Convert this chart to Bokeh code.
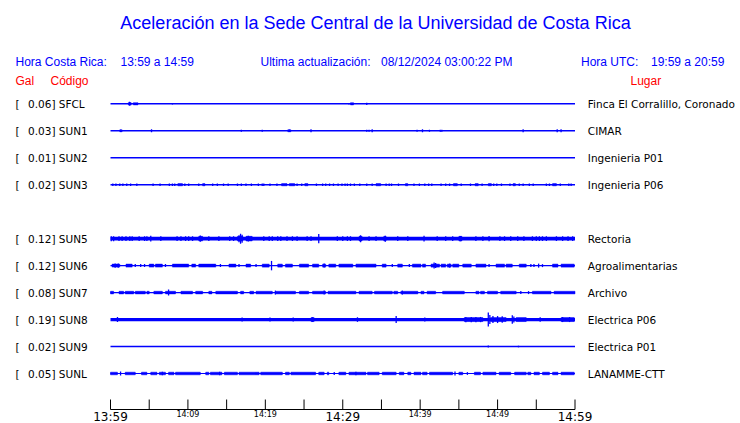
from bokeh.plotting import figure
from bokeh.models import Range1d, ColumnDataSource
from bokeh.core.properties import value
from bokeh.embed import file_html
from bokeh.resources import INLINE

# ---------------- data ----------------
title_text = "Aceleración en la Sede Central de la Universidad de Costa Rica"
hora_cr = "13:59 a 14:59"
ultima = "08/12/2024 03:00:22 PM"
hora_utc = "19:59 a 20:59"

# station order (SUN4 has no record -> empty row)
stations = ["SFCL", "SUN1", "SUN2", "SUN3", "SUN4", "SUN5", "SUN6", "SUN7", "SUN8", "SUN9", "SUNL"]
gal = [0.06, 0.03, 0.01, 0.02, None, 0.12, 0.12, 0.08, 0.19, 0.02, 0.05]
places = ["Finca El Corralillo, Coronado", "CIMAR", "Ingenieria P01", "Ingenieria P06", None,
          "Rectoria", "Agroalimentarias", "Archivo", "Electrica P06", "Electrica P01", "LANAMME-CTT"]

# time window (minutes after 13:59)
t_start, t_end = 0.0, 60.0
tick_minutes = [0, 5, 10, 15, 20, 25, 30, 35, 40, 45, 50, 55, 60]
label_minutes = [0, 10, 20, 30, 40, 50, 60]
label_texts = ["13:59", "14:09", "14:19", "14:29", "14:39", "14:49", "14:59"]
label_major = [True, False, False, True, False, False, True]

# background noise half-amplitude per station (trace units)
noise = [0.7, 0.7, 0.7, 0.7, None, 1.8, 0.6, 0.6, 1.6, 0.7, 0.6]
block_amp = [1.1, 1.0, 0.0, 1.1, None, 2.3, 1.5, 1.3, 2.0, 0.0, 1.3]

# bursts: (t_from, t_to)
sfcl_blocks = [(2.3, 2.65), (2.95, 3.55), (31.0, 31.4)]
sun1_blocks = [(1.2, 1.5), (22.9, 23.3)]
sun2_blocks = []
sun3_blocks = [(8.7, 9.3), (11.9, 12.2), (22.1, 22.8), (23.1, 23.8), (25.1, 25.5), (34.3, 34.9),
               (38.1, 38.4), (44.3, 44.8), (47.1, 47.5), (48.8, 49.2), (52.0, 52.3), (57.1, 57.6)]
sun5_blocks = [(11.4, 11.9), (16.4, 17.1), (17.5, 18.3), (32.1, 32.5), (35.3, 35.6), (45.0, 45.4)]
sun6_blocks = [(0.2, 1.2), (2.0, 2.8), (5.0, 5.6), (5.8, 6.7), (8.0, 10.1), (10.5, 11.0), (11.4, 13.6),
               (15.3, 16.2), (17.5, 18.1), (19.6, 20.5), (21.6, 22.2), (22.6, 23.5), (24.4, 25.6),
               (26.1, 26.9), (27.4, 27.8), (28.2, 29.1), (29.5, 31.3), (31.7, 34.3), (35.1, 35.6),
               (37.1, 37.7), (39.0, 40.1), (40.3, 40.7), (41.4, 42.5), (42.7, 43.3), (43.5, 44.0),
               (44.2, 45.0), (45.5, 46.6), (47.2, 48.5), (49.8, 50.9), (51.1, 51.9), (52.8, 53.7),
               (57.1, 57.8), (58.2, 59.9)]
sun7_blocks = [(0.0, 0.4), (1.1, 1.7), (1.9, 3.0), (3.2, 4.5), (4.7, 5.0), (5.6, 6.7), (7.1, 8.4),
               (9.1, 10.6), (11.0, 11.9), (12.7, 13.1), (13.6, 16.4), (16.8, 17.2), (18.0, 18.5),
               (18.8, 20.9), (21.3, 23.9), (24.4, 25.6), (26.1, 27.8), (28.1, 31.7), (32.1, 33.8),
               (34.1, 36.4), (36.6, 37.1), (37.5, 39.7), (40.1, 40.5), (40.9, 42.0), (42.9, 45.7),
               (47.2, 47.6), (47.8, 48.3), (48.7, 50.0), (50.4, 52.4), (54.5, 56.9), (57.3, 60.0)]
sun8_blocks = [(25.9, 26.3), (45.7, 48.1), (49.1, 51.1), (52.4, 53.7), (58.2, 59.9)]
sun9_blocks = []
sunl_blocks = [(0.0, 0.9), (1.9, 3.2), (4.0, 4.7), (5.2, 6.0), (6.3, 7.1), (7.5, 8.2), (8.4, 11.6),
               (12.3, 12.7), (12.9, 14.4), (14.7, 16.4), (16.6, 19.2), (19.4, 22.2), (22.6, 23.1),
               (23.3, 26.5), (26.9, 27.6), (28.0, 28.2), (29.5, 30.4), (30.8, 33.0), (33.2, 34.7),
               (35.1, 36.9), (37.3, 37.9), (38.4, 38.8), (39.2, 40.1), (40.3, 40.9), (41.2, 44.2),
               (45.0, 45.5), (47.0, 47.8), (48.1, 49.8), (50.2, 51.7), (52.2, 53.7), (53.9, 54.3),
               (54.7, 55.4), (55.8, 56.7), (57.1, 57.8), (58.2, 59.9)]

# spikes: (t, half amplitude)
sfcl_spikes = [(2.45, 2.0), (2.6, 1.4), (8.0, 0.8), (30.8, 0.8), (33.1, 1.1)]
sun1_spikes = [(1.3, 1.0), (5.3, 1.4), (16.9, 1.0), (19.6, 1.0), (23.1, 1.2), (25.9, 1.4), (33.1, 1.0),
               (33.4, 1.0), (33.8, 1.4), (39.6, 1.0), (40.3, 1.4), (41.2, 1.0), (42.6, 1.0), (42.8, 1.0),
               (53.3, 1.4), (57.7, 1.4), (58.2, 1.4)]
sun2_spikes = []
sun3_spikes = [(0.3, 1.2), (0.7, 1.2), (1.2, 1.2), (1.6, 1.2), (2.1, 1.2), (2.6, 1.2), (3.4, 1.2),
               (5.5, 1.2), (6.4, 1.2), (7.6, 1.2), (8.0, 1.2), (8.3, 1.2), (9.6, 1.2), (10.1, 1.2),
               (11.4, 1.2), (13.2, 1.2), (13.8, 1.2), (14.6, 1.2), (15.2, 1.2), (16.4, 1.2), (16.9, 1.2),
               (17.5, 1.2), (18.2, 1.2), (19.1, 1.2), (19.6, 1.2), (19.8, 1.2), (20.6, 1.2), (21.5, 1.2),
               (24.1, 1.2), (24.7, 1.2), (26.6, 1.2), (27.4, 1.2), (27.8, 1.2), (28.3, 1.2), (28.8, 1.2),
               (29.4, 1.2), (29.9, 1.2), (30.3, 1.2), (30.6, 1.2), (31.0, 1.2), (31.5, 1.2), (32.2, 1.2),
               (33.1, 1.2), (33.8, 1.2), (35.6, 1.2), (36.0, 1.2), (36.3, 1.2), (37.2, 1.2), (39.2, 1.2),
               (39.9, 1.2), (40.6, 1.2), (41.1, 1.2), (41.5, 1.2), (42.7, 1.2), (43.3, 1.2), (43.8, 1.2),
               (45.3, 1.2), (46.5, 1.2), (48.0, 1.2), (49.5, 1.2), (49.9, 1.2), (50.5, 1.2), (51.6, 1.2),
               (52.8, 1.2), (53.3, 1.2), (54.1, 1.2), (54.6, 1.2), (56.3, 1.2), (56.7, 1.2), (58.1, 1.2),
               (59.2, 1.2), (59.5, 1.2)]
sun5_spikes = [(0.1, 2.5), (0.4, 2.5), (1.1, 2.3), (1.5, 2.3), (2.0, 2.3), (2.5, 2.3), (2.8, 2.3),
               (3.7, 2.3), (4.4, 2.3), (4.7, 2.3), (5.2, 2.8), (6.5, 2.3), (8.6, 2.3), (9.1, 2.3),
               (9.7, 2.3), (10.1, 2.3), (10.6, 2.3), (11.6, 3.2), (12.7, 2.3), (14.0, 2.3), (15.4, 2.3),
               (15.9, 2.3), (16.6, 3.5), (16.8, 5.0), (17.0, 4.0), (17.8, 2.8), (19.8, 2.3), (20.5, 2.3),
               (20.9, 2.3), (21.6, 2.3), (22.0, 2.3), (22.8, 2.3), (23.5, 2.3), (24.1, 2.3), (25.4, 2.3),
               (25.9, 2.3), (26.9, 4.7), (29.3, 2.3), (30.0, 2.3), (30.6, 2.3), (31.0, 2.3), (32.3, 3.5),
               (33.4, 2.3), (34.3, 2.3), (35.5, 3.0), (37.1, 2.3), (38.4, 2.3), (40.5, 2.8), (42.2, 2.3),
               (43.3, 2.3), (44.2, 2.3), (45.2, 2.6), (47.2, 2.3), (48.1, 2.3), (48.9, 2.6), (50.3, 2.3),
               (50.9, 2.3), (51.7, 2.3), (52.6, 2.3), (53.4, 2.3), (54.5, 2.3), (55.0, 2.3), (55.4, 2.3),
               (55.8, 2.3), (56.3, 2.3), (57.6, 2.3), (58.4, 2.3), (59.1, 2.3), (59.7, 2.3)]
sun6_spikes = [(0.6, 2.2), (1.0, 2.2), (3.2, 1.5), (3.9, 1.5), (4.4, 1.5), (7.1, 1.5), (14.2, 1.5),
               (16.6, 1.5), (18.8, 1.5), (20.8, 4.7), (27.6, 2.0), (36.4, 1.5), (38.6, 1.5), (41.8, 3.0),
               (42.0, 2.5), (43.8, 2.0), (48.9, 1.5), (54.3, 1.5), (54.7, 1.5), (55.3, 2.0), (55.8, 1.5)]
sun7_spikes = [(7.5, 3.0), (21.3, 2.0), (27.6, 2.0), (37.7, 2.0), (53.0, 1.5), (54.0, 1.5)]
sun8_spikes = [(0.9, 2.5), (17.0, 2.0), (20.6, 2.0), (23.6, 2.0), (26.1, 2.4), (31.9, 2.3), (36.9, 3.5),
               (40.6, 2.0), (45.9, 2.6), (46.6, 2.6), (47.2, 2.6), (47.8, 2.6), (48.8, 7.0), (49.0, 4.5),
               (49.4, 3.5), (50.0, 3.5), (50.6, 3.2), (51.9, 4.3), (52.1, 3.0), (55.5, 2.2), (58.4, 2.5),
               (59.3, 2.5)]
sun9_spikes = [(48.8, 1.0), (52.7, 0.8)]
sunl_spikes = [(1.3, 2.0), (6.7, 1.8), (14.1, 1.8), (28.9, 1.4), (31.7, 1.8), (44.5, 2.0), (46.1, 1.4)]

blocks = [sfcl_blocks, sun1_blocks, sun2_blocks, sun3_blocks, None, sun5_blocks, sun6_blocks,
          sun7_blocks, sun8_blocks, sun9_blocks, sunl_blocks]
spikes = [sfcl_spikes, sun1_spikes, sun2_spikes, sun3_spikes, None, sun5_spikes, sun6_spikes,
          sun7_spikes, sun8_spikes, sun9_spikes, sunl_spikes]

# ---------------- layout ----------------
W, H = 740, 423
PAGE_OFF = 0
X0_PX, X1_PX = 110.0, 574.5          # page px of 13:59 / 14:59
ROW0_PX, ROW_STEP = 103.3, 26.97      # page px of first trace and spacing
ppm = (X1_PX - X0_PX) / (t_end - t_start)

def X(px):
    return t_start + (px - X0_PX) / ppm

def Y(py):
    return -(py - ROW0_PX) / ROW_STEP

AMP = 1.0 / ROW_STEP  # trace units -> row units

p = figure(width=W, height=H, output_backend="svg", toolbar_location=None,
           x_range=Range1d(X(PAGE_OFF), X(PAGE_OFF + W)),
           y_range=Range1d(Y(PAGE_OFF + H), Y(PAGE_OFF)),
           x_axis_type=None, y_axis_type=None, min_border=0)
p.outline_line_color = None
p.background_fill_color = "white"
p.border_fill_color = "white"

TRACE = "#0000ff"
BLUE_TXT = "#0000ff"
RED_TXT = "#ff0000"

# traces
for i, st in enumerate(stations):
    if noise[i] is None:
        continue
    yc = -i
    p.line([t_start, t_end], [yc, yc], line_color=TRACE, line_width=2 * noise[i])
    if blocks[i]:
        b = blocks[i]
        a = block_amp[i] * AMP
        p.quad(left=[q[0] for q in b], right=[q[1] for q in b],
               bottom=[yc - a] * len(b), top=[yc + a] * len(b),
               fill_color=TRACE, line_color=TRACE, line_width=0.5)
    if spikes[i]:
        s = spikes[i]
        p.segment(x0=[q[0] for q in s], x1=[q[0] for q in s],
                  y0=[yc - q[1] * AMP for q in s], y1=[yc + q[1] * AMP for q in s],
                  line_color=TRACE, line_width=1.3)

# row labels
rows = [i for i in range(len(stations)) if gal[i] is not None]
src = ColumnDataSource(dict(
    y=[-i for i in rows],
    lab=["%.2f] %s" % (gal[i], stations[i]) for i in rows],
    place=[places[i] for i in rows],
))
LABEL_FONT = value("DejaVu Sans")
LSIZE = "10.5px"
p.text(x=X(15), y="y", text=value("["), source=src, text_font=LABEL_FONT,
       text_font_size=LSIZE, text_color="black", text_baseline="middle", text_align="left")
p.text(x=X(27.5), y="y", text="lab", source=src, text_font=LABEL_FONT,
       text_font_size=LSIZE, text_color="black", text_baseline="middle", text_align="left")
p.text(x=X(587.3), y="y", text="place", source=src, text_font=LABEL_FONT,
       text_font_size=LSIZE, text_color="black", text_baseline="middle", text_align="left")

# header texts
HF = value("Liberation Sans")
def txt(px, py, s, size, color, align="left", baseline="middle", font=HF):
    p.text(x=[X(px)], y=[Y(py)], text=[s], text_font=font, text_font_size=size,
           text_color=color, text_align=align, text_baseline=baseline)

txt(375, 22.5, title_text, "18px", BLUE_TXT, align="center")
txt(15, 61, "Hora Costa Rica:", "12px", BLUE_TXT)
txt(120, 61, hora_cr, "12px", BLUE_TXT)
txt(260, 61, "Ultima actualización:", "12px", BLUE_TXT)
txt(380.5, 61, ultima, "12px", BLUE_TXT)
txt(580.5, 61, "Hora UTC:", "12px", BLUE_TXT)
txt(650.5, 61, hora_utc, "12px", BLUE_TXT)
txt(15, 80.5, "Gal", "12px", RED_TXT)
txt(50, 80.5, "Código", "12px", RED_TXT)
txt(630, 80.5, "Lugar", "12px", RED_TXT)

# time axis
AX_PY = 409
TICK_LEN = 10
p.line([t_start, t_end], [Y(AX_PY), Y(AX_PY)], line_color="black", line_width=1)
p.segment(x0=tick_minutes, x1=tick_minutes, y0=[Y(AX_PY)] * len(tick_minutes),
          y1=[Y(AX_PY - TICK_LEN)] * len(tick_minutes), line_color="black", line_width=1)
big = [k for k in range(len(label_minutes)) if label_major[k]]
small = [k for k in range(len(label_minutes)) if not label_major[k]]
p.text(x=[label_minutes[k] for k in big], y=[Y(AX_PY)] * len(big), text=[label_texts[k] for k in big],
       text_font=LABEL_FONT, text_font_size="12px", text_color="black",
       text_align="center", text_baseline="top")
p.text(x=[label_minutes[k] for k in small], y=[Y(AX_PY + 0.3)] * len(small),
       text=[label_texts[k] for k in small],
       text_font=LABEL_FONT, text_font_size="8px", text_color="black",
       text_align="center", text_baseline="top")

open("out.html", "w").write(file_html(p, INLINE))
